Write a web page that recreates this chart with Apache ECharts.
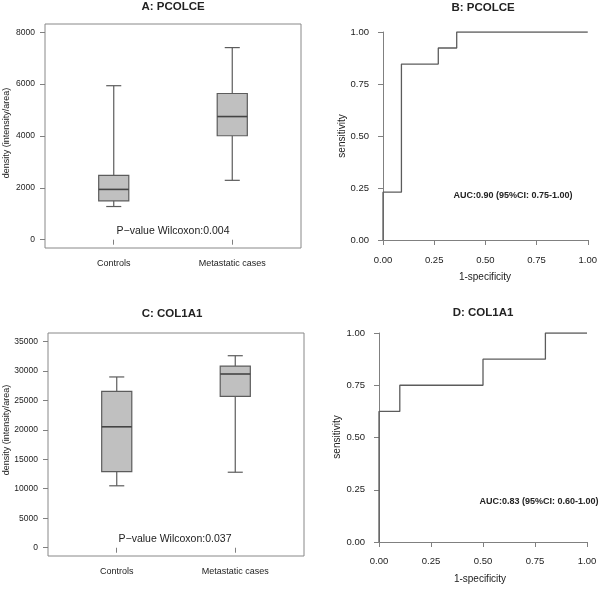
<!DOCTYPE html>
<html>
<head>
<meta charset="utf-8">
<script src="https://cdn.jsdelivr.net/npm/echarts@6/dist/echarts.min.js"></script>
<style>
  html, body { margin: 0; padding: 0; background: #fff; }
  #chart { width: 600px; height: 592px; }
</style>
</head>
<body>
<div id="chart"></div>
<script>
// box stats: [min, q1, median, q3, max]
const categories = ['Controls', 'Metastatic cases']
const boxA = [[1280, 1500, 1940, 2480, 5940], [2290, 4010, 4750, 5640, 7410]]
const boxC = [[10500, 12900, 20500, 26500, 28950], [12800, 25650, 29450, 30800, 32550]]
const ticksA = [0, 2000, 4000, 6000, 8000]
const ticksC = [0, 5000, 10000, 15000, 20000, 25000, 30000, 35000]

// ROC step curves (1-specificity, sensitivity)
const rocBx = [0, 0, 0.09, 0.09, 0.27, 0.27, 0.36, 0.36, 1]
const rocBy = [0, 0.23, 0.23, 0.846, 0.846, 0.923, 0.923, 1, 1]
const rocDx = [0, 0, 0.1, 0.1, 0.5, 0.5, 0.8, 0.8, 1]
const rocDy = [0, 0.625, 0.625, 0.75, 0.75, 0.875, 0.875, 1, 1]
const rocTicks = [0, 0.25, 0.5, 0.75, 1]

const FONT = '"Liberation Sans", Arial, sans-serif'
const LINE = '#5c5c5c'
const AXIS = '#808080'
const TEXT = '#222'

const chart = echarts.init(document.getElementById('chart'))

function boxData(stats) {
  return stats.map((s, i) => [i + 1].concat(s))
}

function renderBox(params, api) {
  const x = api.value(0)
  const pMin = api.coord([x, api.value(1)])
  const pQ1 = api.coord([x, api.value(2)])
  const pMed = api.coord([x, api.value(3)])
  const pQ3 = api.coord([x, api.value(4)])
  const pMax = api.coord([x, api.value(5)])
  const half = api.size([0.127, 0])[0]
  const cap = half / 2
  const cx = pMed[0]
  const ls = { stroke: LINE, lineWidth: 1.2 }
  return {
    type: 'group',
    children: [
      { type: 'line', shape: { x1: cx, y1: pMax[1], x2: cx, y2: pQ3[1] }, style: ls },
      { type: 'line', shape: { x1: cx, y1: pQ1[1], x2: cx, y2: pMin[1] }, style: ls },
      { type: 'line', shape: { x1: cx - cap, y1: pMax[1], x2: cx + cap, y2: pMax[1] }, style: ls },
      { type: 'line', shape: { x1: cx - cap, y1: pMin[1], x2: cx + cap, y2: pMin[1] }, style: ls },
      { type: 'rect', shape: { x: cx - half, y: pQ3[1], width: half * 2, height: pQ1[1] - pQ3[1] },
        style: { fill: '#c0c0c0', stroke: LINE, lineWidth: 1.2 } },
      { type: 'line', shape: { x1: cx - half, y1: pMed[1], x2: cx + half, y2: pMed[1] },
        style: { stroke: '#444', lineWidth: 1.6 } }
    ]
  }
}

function boxXAxis(gridIndex) {
  return {
    type: 'value', gridIndex: gridIndex, min: 0.42, max: 2.58,
    splitLine: { show: false },
    axisLine: { show: false },
    axisTick: { show: true, length: 5, customValues: [1, 2], lineStyle: { color: AXIS } },
    axisLabel: {
      customValues: [1, 2], margin: 11, color: TEXT, fontSize: 9, fontFamily: FONT,
      formatter: v => categories[Math.round(v) - 1]
    }
  }
}

function boxYAxis(gridIndex, ticks, min, max) {
  return {
    type: 'value', gridIndex: gridIndex, min: min, max: max,
    splitLine: { show: false },
    axisLine: { show: false },
    axisTick: { show: true, length: 5, customValues: ticks, lineStyle: { color: AXIS } },
    axisLabel: {
      customValues: ticks, margin: 10, color: TEXT, fontSize: 8.5, fontFamily: FONT,
      formatter: v => String(v)
    }
  }
}

function rocAxis(gridIndex, offset, margin) {
  return {
    type: 'value', gridIndex: gridIndex, min: 0, max: 1, offset: offset,
    splitLine: { show: false },
    axisLine: { show: true, lineStyle: { color: AXIS, width: 1 } },
    axisTick: { show: true, length: 5, customValues: rocTicks, lineStyle: { color: AXIS } },
    axisLabel: {
      customValues: rocTicks, margin: margin, color: TEXT, fontSize: 9.5, fontFamily: FONT,
      formatter: v => v.toFixed(2)
    }
  }
}

function rocSeries(idx, xs, ys) {
  return {
    type: 'line', xAxisIndex: idx, yAxisIndex: idx,
    data: xs.map((x, i) => [x, ys[i]]),
    symbol: 'none', silent: true,
    lineStyle: { color: LINE, width: 1.3 }
  }
}

function txt(x, y, text, size, bold, rot) {
  return {
    type: 'text', x: x, y: y, rotation: rot || 0,
    style: {
      text: text, fill: TEXT, fontSize: size, fontFamily: FONT,
      fontWeight: bold ? 'bold' : 'normal', textAlign: 'center', textVerticalAlign: 'middle'
    }
  }
}

chart.setOption({
  animation: false,
  grid: [
    { left: 45, top: 24, width: 256, height: 224, show: true, borderColor: '#888', borderWidth: 1 },
    { left: 383, top: 32, width: 209, height: 208 },
    { left: 48, top: 333, width: 256, height: 223, show: true, borderColor: '#888', borderWidth: 1 },
    { left: 379, top: 333, width: 208, height: 209 }
  ],
  xAxis: [
    boxXAxis(0),
    rocAxis(1, 7, 8),
    boxXAxis(2),
    rocAxis(3, 6, 8)
  ],
  yAxis: [
    boxYAxis(0, ticksA, -320, 8320),
    rocAxis(1, 6, 8),
    boxYAxis(2, ticksC, -1400, 36400),
    rocAxis(3, 6, 8)
  ],
  series: [
    { type: 'custom', xAxisIndex: 0, yAxisIndex: 0, renderItem: renderBox,
      encode: { x: 0, y: [1, 2, 3, 4, 5] }, data: boxData(boxA) },
    rocSeries(1, rocBx, rocBy),
    { type: 'custom', xAxisIndex: 2, yAxisIndex: 2, renderItem: renderBox,
      encode: { x: 0, y: [1, 2, 3, 4, 5] }, data: boxData(boxC) },
    rocSeries(3, rocDx, rocDy)
  ],
  graphic: [
    txt(173, 7, 'A: PCOLCE', 11.5, true),
    txt(7, 133, 'density (intensity/area)', 9, false, Math.PI / 2),
    txt(173, 231, 'P\u2212value Wilcoxon:0.004', 10.5, false),
    txt(483, 8, 'B: PCOLCE', 11.5, true),
    txt(342, 136, 'sensitivity', 10, false, Math.PI / 2),
    txt(485, 277, '1-specificity', 10, false),
    txt(513, 196, 'AUC:0.90 (95%CI: 0.75-1.00)', 9, true),
    txt(172, 314, 'C: COL1A1', 11.5, true),
    txt(7, 430, 'density (intensity/area)', 9, false, Math.PI / 2),
    txt(175, 539, 'P\u2212value Wilcoxon:0.037', 10.5, false),
    txt(483, 313, 'D: COL1A1', 11.5, true),
    txt(337, 437, 'sensitivity', 10, false, Math.PI / 2),
    txt(480, 579, '1-specificity', 10, false),
    txt(539, 502, 'AUC:0.83 (95%CI: 0.60-1.00)', 9, true)
  ]
})
</script>
</body>
</html>
